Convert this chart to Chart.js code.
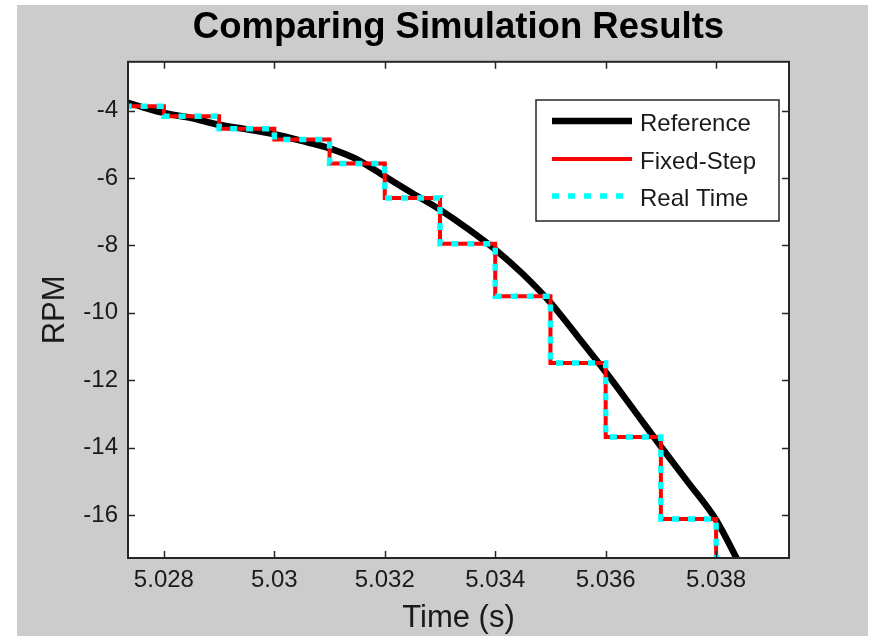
<!DOCTYPE html>
<html><head><meta charset="utf-8">
<script src="https://cdn.jsdelivr.net/npm/chart.js@4"></script>
<style>
html,body{margin:0;padding:0;background:#fff;width:871px;height:636px;overflow:hidden}
#wrap{position:absolute;left:17px;top:5px;width:851px;height:631px;background:#cccccc}
canvas{display:block}
</style></head><body>
<div id="wrap"><canvas id="c" width="851" height="631"></canvas></div>
<script>
const chartTitle = 'Comparing Simulation Results';
const xAxisTitle = 'Time (s)';
const yAxisTitle = 'RPM';
const seriesNames = ['Reference', 'Fixed-Step', 'Real Time'];

const refTime = [5.0273, 5.0275, 5.0280, 5.0285, 5.0290, 5.0295, 5.0300, 5.0305, 5.0310, 5.0315, 5.0320, 5.0325, 5.0330, 5.0335, 5.0340, 5.0345, 5.0350, 5.0355, 5.0360, 5.0365, 5.0370, 5.0375, 5.0380, 5.0385];
const refRPM  = [-3.74, -3.84, -4.07, -4.22, -4.42, -4.55, -4.70, -4.90, -5.12, -5.45, -5.95, -6.45, -6.94, -7.50, -8.12, -8.85, -9.70, -10.72, -11.76, -12.86, -13.97, -15.05, -16.15, -17.70];

const stepTime     = [5.027, 5.028, 5.029, 5.030, 5.031, 5.032, 5.033, 5.034, 5.035, 5.036, 5.037, 5.038];
const fixedStepRPM = [-3.87, -4.17, -4.54, -4.86, -5.57, -6.59, -7.95, -9.51, -11.49, -13.69, -16.12, -18.80];
const realTimeRPM  = [-3.87, -4.17, -4.54, -4.86, -5.57, -6.59, -7.95, -9.51, -11.49, -13.69, -16.12, -18.80];

const xTicks = [5.028, 5.030, 5.032, 5.034, 5.036, 5.038];
const xTickLabels = ['5.028', '5.03', '5.032', '5.034', '5.036', '5.038'];
const yTicks = [-4, -6, -8, -10, -12, -14, -16];
const yTickLabels = ['-4', '-6', '-8', '-10', '-12', '-14', '-16'];
const xLimits = [5.02735, 5.03932];
const yLimits = [-17.28, -2.55];

const pts = (xs, ys) => xs.map((v, i) => ({x: v, y: ys[i]}));
const FONT = '"Liberation Sans", Arial, sans-serif';
Chart.defaults.font.family = FONT;

const frame = {
  id: 'frame',
  beforeDatasetsDraw(chart) {
    const {ctx, chartArea: a} = chart;
    ctx.save();
    ctx.fillStyle = '#ffffff';
    ctx.fillRect(a.left, a.top, a.right - a.left, a.bottom - a.top);
    ctx.restore();
  },
  afterDatasetsDraw(chart) {
    const {ctx, chartArea: a, scales: {x, y}} = chart;
    ctx.save();
    ctx.strokeStyle = '#262626';
    ctx.lineWidth = 1.5;
    ctx.beginPath();
    x.ticks.forEach(t => {
      const p = Math.round(x.getPixelForValue(t.value)) + 0.5;
      ctx.moveTo(p, a.bottom); ctx.lineTo(p, a.bottom - 7);
      ctx.moveTo(p, a.top); ctx.lineTo(p, a.top + 7);
    });
    y.ticks.forEach(t => {
      const p = Math.round(y.getPixelForValue(t.value)) + 0.5;
      ctx.moveTo(a.left, p); ctx.lineTo(a.left + 7, p);
      ctx.moveTo(a.right, p); ctx.lineTo(a.right - 7, p);
    });
    ctx.stroke();
    ctx.lineWidth = 2;
    ctx.strokeRect(a.left, a.top, a.right - a.left, a.bottom - a.top);
    ctx.restore();
  },
  afterDraw(chart) {
    const {ctx} = chart;
    const bx = 519, by = 95, bw = 243, bh = 121;
    const rows = [116, 154, 191];
    ctx.save();
    ctx.fillStyle = '#ffffff';
    ctx.fillRect(bx, by, bw, bh);
    ctx.strokeStyle = '#262626';
    ctx.lineWidth = 1.5;
    ctx.strokeRect(bx, by, bw, bh);
    chart.data.datasets.forEach((ds, i) => {
      const ry = rows[i];
      ctx.save();
      ctx.strokeStyle = ds.borderColor;
      ctx.lineWidth = ds.borderWidth;
      ctx.lineCap = 'butt';
      ctx.setLineDash(ds.borderDash || []);
      ctx.beginPath();
      ctx.moveTo(535, ry); ctx.lineTo(615, ry);
      ctx.stroke();
      ctx.restore();
      ctx.fillStyle = '#1a1a1a';
      ctx.font = '24px ' + FONT;
      ctx.textAlign = 'left';
      ctx.textBaseline = 'middle';
      ctx.fillText(ds.label, 623, ry + 3);
    });
    ctx.restore();
  }
};

new Chart(document.getElementById('c'), {
  type: 'line',
  data: {
    datasets: [
      {label: seriesNames[0], data: pts(refTime, refRPM), borderColor: '#000000', borderWidth: 6.5,
       pointRadius: 0, cubicInterpolationMode: 'monotone', clip: 0, order: 3},
      {label: seriesNames[1], data: pts(stepTime, fixedStepRPM), borderColor: '#ff0000', borderWidth: 4,
       pointRadius: 0, stepped: true, clip: 0, order: 2},
      {label: seriesNames[2], data: pts(stepTime, realTimeRPM), borderColor: '#00ffff', borderWidth: 5.5,
       borderDash: [7, 9], pointRadius: 0, stepped: true, clip: 0, order: 1}
    ]
  },
  options: {
    responsive: false,
    animation: false,
    devicePixelRatio: 1,
    layout: {padding: {left: 0, right: 79, top: 0, bottom: 0}},
    plugins: {
      legend: {display: false},
      tooltip: {enabled: false},
      title: {display: true, text: chartTitle, fullSize: false, color: '#000000',
              font: {size: 36.5, weight: 'bold', family: FONT, lineHeight: 1.2},
              padding: {top: 1, bottom: 12}}
    },
    scales: {
      x: {
        type: 'linear', min: xLimits[0], max: xLimits[1],
        afterBuildTicks: s => { s.ticks = xTicks.map(v => ({value: v})); },
        afterFit: s => { s.height = 78; },
        grid: {display: false, drawTicks: false},
        border: {display: false},
        ticks: {padding: 8, color: '#1a1a1a', font: {size: 24, family: FONT},
                maxRotation: 0, autoSkip: false,
                callback: (v) => { const i = xTicks.findIndex(t => Math.abs(t - v) < 1e-9); return i >= 0 ? xTickLabels[i] : ''; }},
        title: {display: true, text: xAxisTitle, color: '#1a1a1a',
                font: {size: 31, family: FONT, lineHeight: 1.0}, padding: {top: 0, bottom: 2}}
      },
      y: {
        type: 'linear', min: yLimits[0], max: yLimits[1],
        afterBuildTicks: s => { s.ticks = yTicks.map(v => ({value: v})); },
        afterFit: s => { s.width = 111; },
        grid: {display: false, drawTicks: false},
        border: {display: false},
        ticks: {padding: 10, color: '#1a1a1a', font: {size: 24, family: FONT}, autoSkip: false,
                callback: (v) => { const i = yTicks.findIndex(t => Math.abs(t - v) < 1e-9); return i >= 0 ? yTickLabels[i] : ''; }},
        title: {display: true, text: yAxisTitle, color: '#1a1a1a',
                font: {size: 31, family: FONT, lineHeight: 1.2}, padding: {top: 20, bottom: 0}}
      }
    }
  },
  plugins: [frame]
});
</script>
</body></html>
